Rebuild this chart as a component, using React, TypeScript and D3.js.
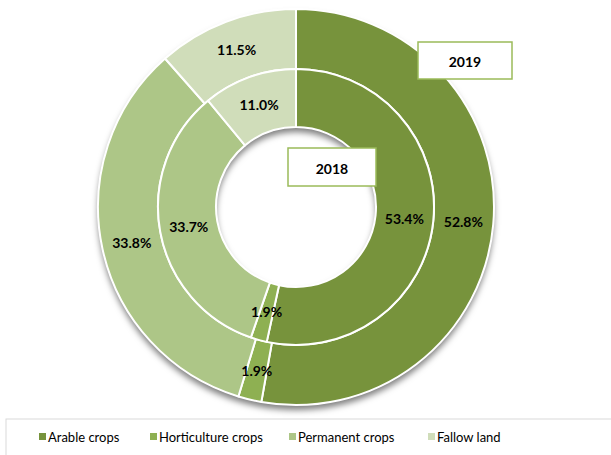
import { useEffect, useRef } from "react";
import * as d3 from "d3";

// ─── Data ────────────────────────────────────────────────────────────────────
const categories = ["Arable crops", "Horticulture crops", "Permanent crops", "Fallow land"];
const values2018 = [53.4, 1.9, 33.7, 11.0];
const values2019 = [52.8, 1.9, 33.8, 11.5];
const colors = ["#77933C", "#8EB052", "#ADC687", "#D0DDBA"];

const width = 611;
const height = 455;
const cx = 296;
const cy = 207;
const rHole = 80;
const rMid = 138;
const rOuter = 198;

export default function App() {
  const svgRef = useRef<SVGSVGElement>(null);

  useEffect(() => {
    if (!svgRef.current) return;
    const svg = d3.select(svgRef.current);
    svg.selectAll("*").remove();

    // ── Shadow filter ──────────────────────────────────────────────────────
    const defs = svg.append("defs");
    const f = defs
      .append("filter")
      .attr("id", "shadow")
      .attr("x", "-20%")
      .attr("y", "-20%")
      .attr("width", "140%")
      .attr("height", "140%");
    f.append("feDropShadow")
      .attr("dx", 0)
      .attr("dy", 5)
      .attr("stdDeviation", 3)
      .attr("flood-color", "#000")
      .attr("flood-opacity", 0.5);

    const pie = d3
      .pie<number>()
      .sort(null)
      .value((d) => d);

    const g = svg.append("g").attr("transform", `translate(${cx},${cy})`);

    // shadow base under the outer ring
    g.append("path")
      .attr("d", d3.arc()({ innerRadius: rHole, outerRadius: rOuter, startAngle: 0, endAngle: 2 * Math.PI }) as string)
      .attr("fill", "#fff")
      .attr("filter", "url(#shadow)");

    const rings = [
      { values: values2019, inner: rMid, outer: rOuter },
      { values: values2018, inner: rHole, outer: rMid },
    ];

    rings.forEach((ring) => {
      const arc = d3
        .arc<d3.PieArcDatum<number>>()
        .innerRadius(ring.inner)
        .outerRadius(ring.outer);
      const arcs = pie(ring.values);
      g.append("g")
        .selectAll("path")
        .data(arcs)
        .enter()
        .append("path")
        .attr("d", arc)
        .attr("fill", (_, i) => colors[i])
        .attr("stroke", "#fff")
        .attr("stroke-width", 2)
        .attr("stroke-linejoin", "round");

      g.append("g")
        .selectAll("text")
        .data(arcs)
        .enter()
        .append("text")
        .attr("transform", (d) => `translate(${arc.centroid(d)})`)
        .attr("text-anchor", "middle")
        .attr("dominant-baseline", "central")
        .attr("font-family", "Lato, 'Open Sans', sans-serif")
        .attr("font-weight", "bold")
        .attr("font-size", 14)
        .attr("fill", "#000")
        .text((d) => `${d.data.toFixed(1)}%`);
    });

    // ── Year boxes ─────────────────────────────────────────────────────────
    const boxes = [
      { label: "2019", x: 418, y: 42, w: 94, h: 37 },
      { label: "2018", x: 288, y: 148, w: 88, h: 38 },
    ];
    boxes.forEach((b) => {
      svg
        .append("rect")
        .attr("x", b.x)
        .attr("y", b.y)
        .attr("width", b.w)
        .attr("height", b.h)
        .attr("fill", "#fff")
        .attr("stroke", "#9BBB59")
        .attr("stroke-width", 1.5);
      svg
        .append("text")
        .attr("x", b.x + b.w / 2)
        .attr("y", b.y + b.h / 2 + 1)
        .attr("text-anchor", "middle")
        .attr("dominant-baseline", "central")
        .attr("font-family", "Lato, 'Open Sans', sans-serif")
        .attr("font-weight", "bold")
        .attr("font-size", 14)
        .attr("fill", "#000")
        .text(b.label);
    });

    // ── Legend ─────────────────────────────────────────────────────────────
    svg
      .append("rect")
      .attr("x", 6)
      .attr("y", 419)
      .attr("width", 640)
      .attr("height", 60)
      .attr("fill", "#fff")
      .attr("stroke", "#D9D9D9")
      .attr("stroke-width", 1);

    const legendX = [39, 150, 289, 428];
    categories.forEach((c, i) => {
      svg
        .append("rect")
        .attr("x", legendX[i])
        .attr("y", 433)
        .attr("width", 7)
        .attr("height", 7)
        .attr("fill", colors[i]);
      svg
        .append("text")
        .attr("x", legendX[i] + 9)
        .attr("y", 437)
        .attr("dominant-baseline", "central")
        .attr("font-family", "Lato, 'Open Sans', sans-serif")
        .attr("font-size", 13)
        .attr("fill", "#000")
        .text(c);
    });
  }, []);

  return (
    <svg
      ref={svgRef}
      width={width}
      height={height}
      viewBox={`0 0 ${width} ${height}`}
      style={{ position: "absolute", left: 0, top: 0, background: "#fff" }}
    />
  );
}
